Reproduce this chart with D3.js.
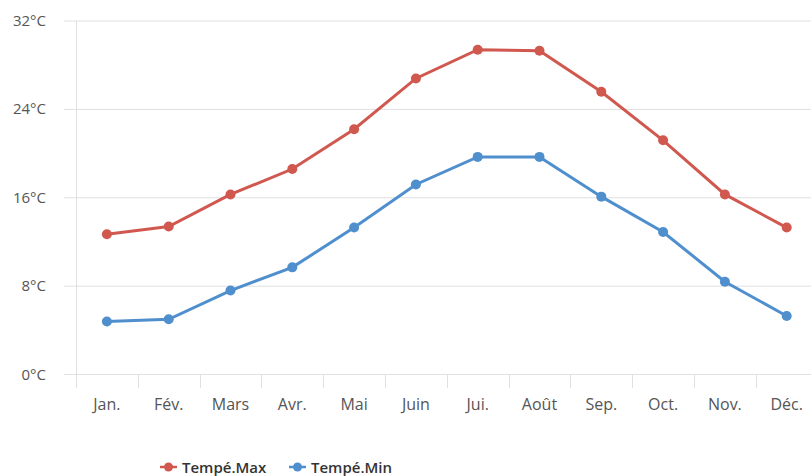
<!DOCTYPE html>
<html><head><meta charset="utf-8">
<script src="https://cdn.jsdelivr.net/npm/d3@7"></script>
<style>body{margin:0;background:#fff;}svg{display:block;font-family:"Open Sans",sans-serif;}</style>
</head><body>
<svg id="c" width="811" height="476"></svg>
<script>
const months = ["Jan.","Fév.","Mars","Avr.","Mai","Juin","Jui.","Août","Sep.","Oct.","Nov.","Déc."];
const tempMax = [12.7,13.4,16.3,18.6,22.2,26.8,29.4,29.3,25.6,21.2,16.3,13.3];
const tempMin = [4.8,5.0,7.6,9.7,13.3,17.2,19.7,19.7,16.1,12.9,8.4,5.3];
const yTicks = [0,8,16,24,32];
const seriesNames = ["Tempé.Max","Tempé.Min"];
const colors = ["#d0584f","#4f8fcd"];

const svg = d3.select("#c");
const x = d3.scaleBand().domain(months).range([76, 817.6]);
const y = d3.scaleLinear().domain([0,32]).range([374.5, 21]);

// grid
svg.append("g").selectAll("line").data(yTicks).join("line")
  .attr("x1",64).attr("x2",811).attr("y1",d=>y(d)).attr("y2",d=>y(d))
  .attr("stroke","#e0e0e0").attr("stroke-width",1);
// y axis line
svg.append("line").attr("x1",76.5).attr("x2",76.5).attr("y1",y(32)).attr("y2",388)
  .attr("stroke","#e0e0e0");
// x ticks
svg.append("g").selectAll("line").data(months.slice(1)).join("line")
  .attr("x1",d=>Math.round(x(d))+0.5).attr("x2",d=>Math.round(x(d))+0.5)
  .attr("y1",375).attr("y2",388).attr("stroke","#e0e0e0");
// y labels
svg.append("g").selectAll("text").data(yTicks).join("text")
  .attr("x",46).attr("y",d=>y(d)+5).attr("text-anchor","end")
  .attr("font-size",15).attr("font-weight",500).attr("fill","#555").text(d=>d+"°C");
// x labels
svg.append("g").selectAll("text").data(months).join("text")
  .attr("x",d=>x(d)+x.bandwidth()/2).attr("y",410).attr("text-anchor","middle")
  .attr("font-size",16).attr("font-weight",500).attr("fill","#555").text(d=>d);

const line = d3.line().x((d,i)=>x(months[i])+x.bandwidth()/2).y(d=>y(d));
[tempMax,tempMin].forEach((s,k)=>{
  const g = svg.append("g");
  g.append("path").attr("d",line(s)).attr("fill","none").attr("stroke",colors[k]).attr("stroke-width",3);
  g.selectAll("circle").data(s).join("circle")
    .attr("cx",(d,i)=>x(months[i])+x.bandwidth()/2).attr("cy",d=>y(d)).attr("r",5)
    .attr("fill",colors[k]);
});

// legend
const lg = svg.append("g");
const lx = [160,289];
seriesNames.forEach((n,k)=>{
  lg.append("line").attr("x1",lx[k]).attr("x2",lx[k]+17).attr("y1",467).attr("y2",467)
    .attr("stroke",colors[k]).attr("stroke-width",2.5);
  lg.append("circle").attr("cx",lx[k]+8.5).attr("cy",467).attr("r",4.5).attr("fill",colors[k]);
  lg.append("text").attr("x",lx[k]+22).attr("y",473).attr("font-size",15).attr("font-weight",600)
    .attr("fill","#333").text(n);
});
</script>
</body></html>
